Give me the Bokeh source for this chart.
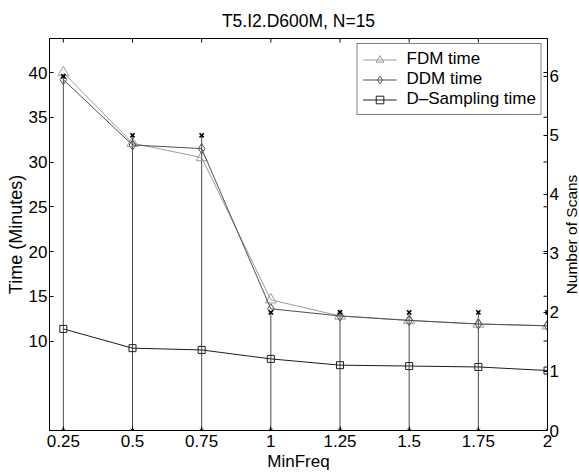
import math
from bokeh.plotting import figure
from bokeh.layouts import row
from bokeh.models import Range1d, LinearAxis, FixedTicker, Legend, LegendItem
from bokeh.core.properties import value
from bokeh.embed import file_html
from bokeh.resources import INLINE

# ---- data ----
minfreq = [0.25, 0.5, 0.75, 1.0, 1.25, 1.5, 1.75, 2.0]
x_tick_labels = ["0.25", "0.5", "0.75", "1", "1.25", "1.5", "1.75", "2"]
fdm_time = [40.0, 32.1, 30.5, 14.6, 12.8, 12.3, 11.9, 11.7]
ddm_time = [39.2, 31.9, 31.5, 13.6, 12.8, 12.3, 11.9, 11.7]
dsampling_time = [11.35, 9.2, 9.0, 8.0, 7.3, 7.2, 7.1, 6.7]
num_scans = [6, 5, 5, 2, 2, 2, 2, 2]
time_ticks = [10, 15, 20, 25, 30, 35, 40]
scan_ticks = [0, 1, 2, 3, 4, 5, 6]

FONT = "Liberation Sans"
TICK_SIZE = "17px"

x_lo, x_hi = 0.2, 2.0
t_lo, t_hi = 0.0, 43.8
s_lo, s_hi = 0.0, 6.64

p = figure(width=561, height=473, output_backend="svg", toolbar_location=None,
           x_range=Range1d(x_lo, x_hi), y_range=Range1d(t_lo, t_hi),
           x_axis_location=None, y_axis_location=None,
           min_border_left=49, min_border_right=12, min_border_top=37, min_border_bottom=43)
p.extra_y_ranges = {"scans": Range1d(s_lo, s_hi)}
p.grid.visible = False
p.outline_line_color = "black"
p.outline_line_width = 1
p.background_fill_color = "white"
p.border_fill_color = "white"

p.title.text = "T5.I2.D600M, N=15"
p.title.align = "center"
p.title.text_font = FONT
p.title.text_font_size = "17.5px"
p.title.text_font_style = "normal"
p.title.text_color = "black"
p.title.standoff = 16


def style_axis(ax, label_size):
    ax.major_tick_in = 4
    ax.major_tick_out = 0
    ax.minor_tick_in = 0
    ax.minor_tick_out = 0
    ax.axis_line_color = "black"
    ax.major_tick_line_color = "black"
    ax.major_label_text_font = FONT
    ax.major_label_text_font_size = TICK_SIZE
    ax.major_label_text_color = "black"
    ax.major_label_standoff = 2
    ax.axis_label_text_font = FONT
    ax.axis_label_text_font_size = label_size
    ax.axis_label_text_font_style = "normal"
    ax.axis_label_text_color = "black"
    ax.axis_label_standoff = 0


bottom = LinearAxis(ticker=FixedTicker(ticks=minfreq), axis_label="MinFreq",
                    major_label_overrides=dict(zip(minfreq, x_tick_labels)))
style_axis(bottom, "17px")
bottom.major_label_standoff = 4
bottom.axis_label_standoff = 2
p.add_layout(bottom, "below")

left = LinearAxis(ticker=FixedTicker(ticks=time_ticks), axis_label="Time (Minutes)")
style_axis(left, "18px")
p.add_layout(left, "left")

right = LinearAxis(y_range_name="scans", ticker=FixedTicker(ticks=scan_ticks))
style_axis(right, "17px")
p.add_layout(right, "right")

# mirrored inward ticks on the top and right frame edges (clipped half of a dash)
p.scatter(minfreq, [t_hi] * len(minfreq), marker="dash", angle=math.pi / 2, size=8,
          line_color="black", line_width=1)
p.scatter([x_hi] * len(time_ticks), time_ticks, marker="dash", size=8,
          line_color="black", line_width=1)

# ---- stems (number of scans, right axis) ----
base = [s_lo] * len(minfreq)
p.segment(x0=minfreq, y0=base, x1=minfreq, y1=num_scans, y_range_name="scans",
          line_color="#4a4a4a", line_width=1)
p.scatter(minfreq, base, y_range_name="scans", marker="asterisk", size=5,
          line_color="black", line_width=1)

# ---- time series (left axis) ----
fdm_l = p.line(minfreq, fdm_time, line_color="#9c9c9c", line_width=1)
fdm_m = p.scatter(minfreq, fdm_time, marker="triangle", size=11, fill_alpha=0,
                  line_color="#9c9c9c", line_width=1)
ddm_l = p.line(minfreq, ddm_time, line_color="#505050", line_width=1)
ddm_m = p.scatter(minfreq, ddm_time, marker="diamond", size=10, fill_alpha=0,
                  line_color="#505050", line_width=1)
ds_l = p.line(minfreq, dsampling_time, line_color="#1e1e1e", line_width=1)
ds_m = p.scatter(minfreq, dsampling_time, marker="square", size=7, fill_alpha=0,
                 line_color="#1e1e1e", line_width=1)

p.scatter(minfreq, num_scans, y_range_name="scans", marker="x", size=6,
          line_color="black", line_width=1.6)

legend = Legend(items=[LegendItem(label="FDM time", renderers=[fdm_l, fdm_m]),
                       LegendItem(label="DDM time", renderers=[ddm_l, ddm_m]),
                       LegendItem(label="D\u2013Sampling time", renderers=[ds_l, ds_m])],
                location="top_right", margin=5, padding=5, spacing=0,
                glyph_width=34, glyph_height=19, label_height=19, label_standoff=10,
                label_text_font=FONT, label_text_font_size="17px", label_text_color="black",
                border_line_color="black", border_line_width=1,
                background_fill_color="white", background_fill_alpha=1)
p.add_layout(legend)

# ---- right-hand axis title, reading bottom-to-top, in a narrow strip ----
q = figure(width=18, height=473, output_backend="svg", toolbar_location=None,
           x_range=Range1d(0, 1), y_range=p.y_range,
           x_axis_location=None, y_axis_location=None,
           min_border_left=0, min_border_right=0, min_border_top=37, min_border_bottom=43)
q.grid.visible = False
q.outline_line_color = None
q.background_fill_color = "white"
q.border_fill_color = "white"
q.text(x=[0.55], y=[(t_lo + t_hi) / 2], text=["Number of Scans"], angle=math.pi / 2,
       text_align="center", text_baseline="middle", text_color="black",
       text_font=value(FONT), text_font_size=value("15.5px"))

layout = row(p, q)
open("out.html", "w").write(file_html(layout, INLINE))
